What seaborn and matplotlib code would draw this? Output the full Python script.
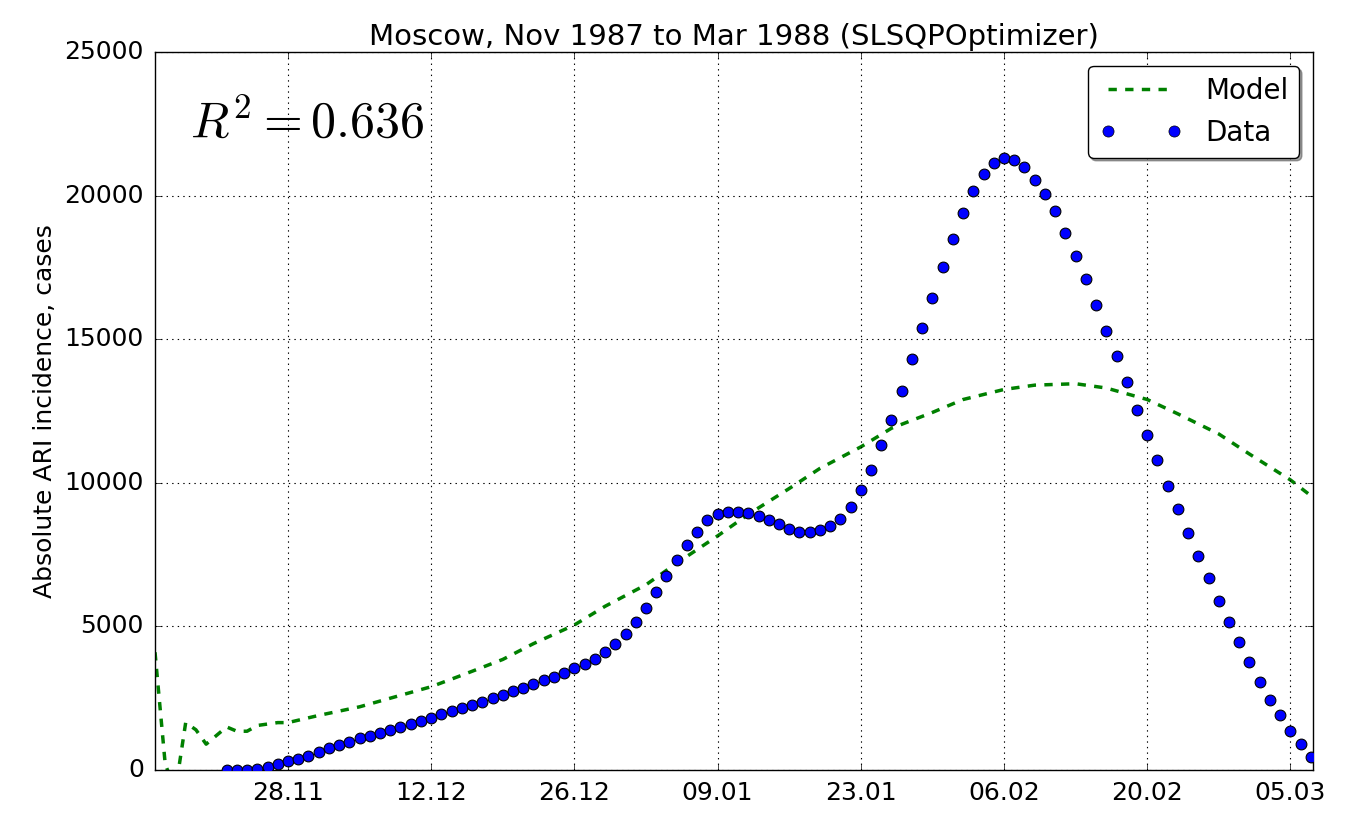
"""Moscow ARI incidence: model vs data, classic matplotlib look drawn with seaborn."""

import matplotlib
matplotlib.use("Agg")
import matplotlib.pyplot as plt
import matplotlib.dates as mdates
from matplotlib.lines import Line2D
import pandas as pd
import seaborn as sns

# Observed daily data starting 22.11.1987
data_start = "1987-11-22"
data_values = [
    0, 0, 0, 50, 100, 200, 300, 400, 500, 620, 750, 870, 980, 1100, 1200, 1300,
    1400, 1500, 1600, 1700, 1820, 1950, 2050, 2150, 2270, 2380, 2500, 2620, 2750,
    2870, 3000, 3130, 3250, 3380, 3550, 3700, 3880, 4100, 4400, 4750, 5150, 5650,
    6200, 6750, 7300, 7850, 8300, 8700, 8900, 9000, 9000, 8950, 8850, 8700, 8550,
    8400, 8300, 8300, 8350, 8500, 8750, 9150, 9750, 10450, 11300, 12200, 13200,
    14300, 15400, 16450, 17500, 18500, 19400, 20150, 20750, 21150, 21300, 21250,
    21000, 20550, 20050, 19450, 18700, 17900, 17100, 16200, 15300, 14400, 13500,
    12550, 11650, 10800, 9900, 9100, 8250, 7450, 6700, 5900, 5150, 4450, 3750,
    3050, 2450, 1900, 1350, 900, 450, 30,
]

# Model curve, day offset from 15.11.1987
model_start = "1987-11-15"
model_days = [0, 1, 2, 3, 4, 5, 6, 7, 8, 9, 10, 11, 12, 13, 16, 20, 23, 27, 30,
              34, 37, 41, 44, 48, 51, 55, 58, 62, 65, 69, 72, 76, 79, 83, 86, 90,
              93, 97, 100, 104, 107, 111, 113]
model_values = [4100, 200, -700, 1650, 1400, 900, 1200, 1500, 1350, 1350, 1550,
                1600, 1650, 1650, 1900, 2200, 2500, 2900, 3300, 3850, 4400, 5050,
                5700, 6450, 7200, 8150, 8900, 9800, 10500, 11250, 11900, 12450,
                12900, 13250, 13400, 13450, 13300, 12900, 12400, 11700, 11000,
                10100, 9550]

tick_dates = ["1987-11-28", "1987-12-12", "1987-12-26", "1988-01-09",
              "1988-01-23", "1988-02-06", "1988-02-20", "1988-03-05"]

data_df = pd.DataFrame({
    "date": pd.date_range(data_start, periods=len(data_values), freq="D"),
    "cases": data_values,
})
model_df = pd.DataFrame({
    "date": pd.Timestamp(model_start) + pd.to_timedelta(model_days, unit="D"),
    "cases": model_values,
})

plt.style.use("classic")
plt.rcParams["font.family"] = ["DejaVu Sans"]
plt.rcParams["mathtext.fontset"] = "cm"

fig = plt.figure(figsize=(13.53, 8.23), dpi=100, facecolor="white")
ax = fig.add_axes([155 / 1353, 1 - 770 / 823, (1313 - 155) / 1353, (770 - 52) / 823])

sns.lineplot(data=model_df, x="date", y="cases", ax=ax, color="green",
             linestyle="--", linewidth=2.5, legend=False)
sns.scatterplot(data=data_df, x="date", y="cases", ax=ax, color="blue",
                edgecolor="black", s=60, linewidth=0.8, legend=False, zorder=3)

ax.set_xlim(pd.Timestamp("1987-11-15"), pd.Timestamp("1988-03-07 05:00"))
ax.set_ylim(0, 25000)
ax.set_xticks(pd.to_datetime(tick_dates))
ax.xaxis.set_major_formatter(mdates.DateFormatter("%d.%m"))
ax.set_yticks(range(0, 25001, 5000))
ax.grid(True, color="black", linestyle=":", linewidth=0.8)
ax.set_xlabel("")
ax.set_ylabel("Absolute ARI incidence, cases", fontsize=18)
ax.tick_params(labelsize=18, pad=8)
ax.set_title("Moscow, Nov 1987 to Mar 1988 (SLSQPOptimizer)", fontsize=21)
ax.text(0.03, 0.9, r"$R^2 = 0.636$", transform=ax.transAxes, fontsize=36,
        va="center")

handles = [
    Line2D([], [], color="green", linestyle="--", linewidth=2.5),
    Line2D([], [], color="blue", marker="o", linestyle="none",
           markeredgecolor="black", markersize=8),
]
leg = ax.legend(handles, ["Model", "Data"], loc="upper right", fontsize=20,
                numpoints=2, shadow=True, fancybox=True, handlelength=3)

fig.savefig("out.png", dpi=100)
plt.close(fig)
